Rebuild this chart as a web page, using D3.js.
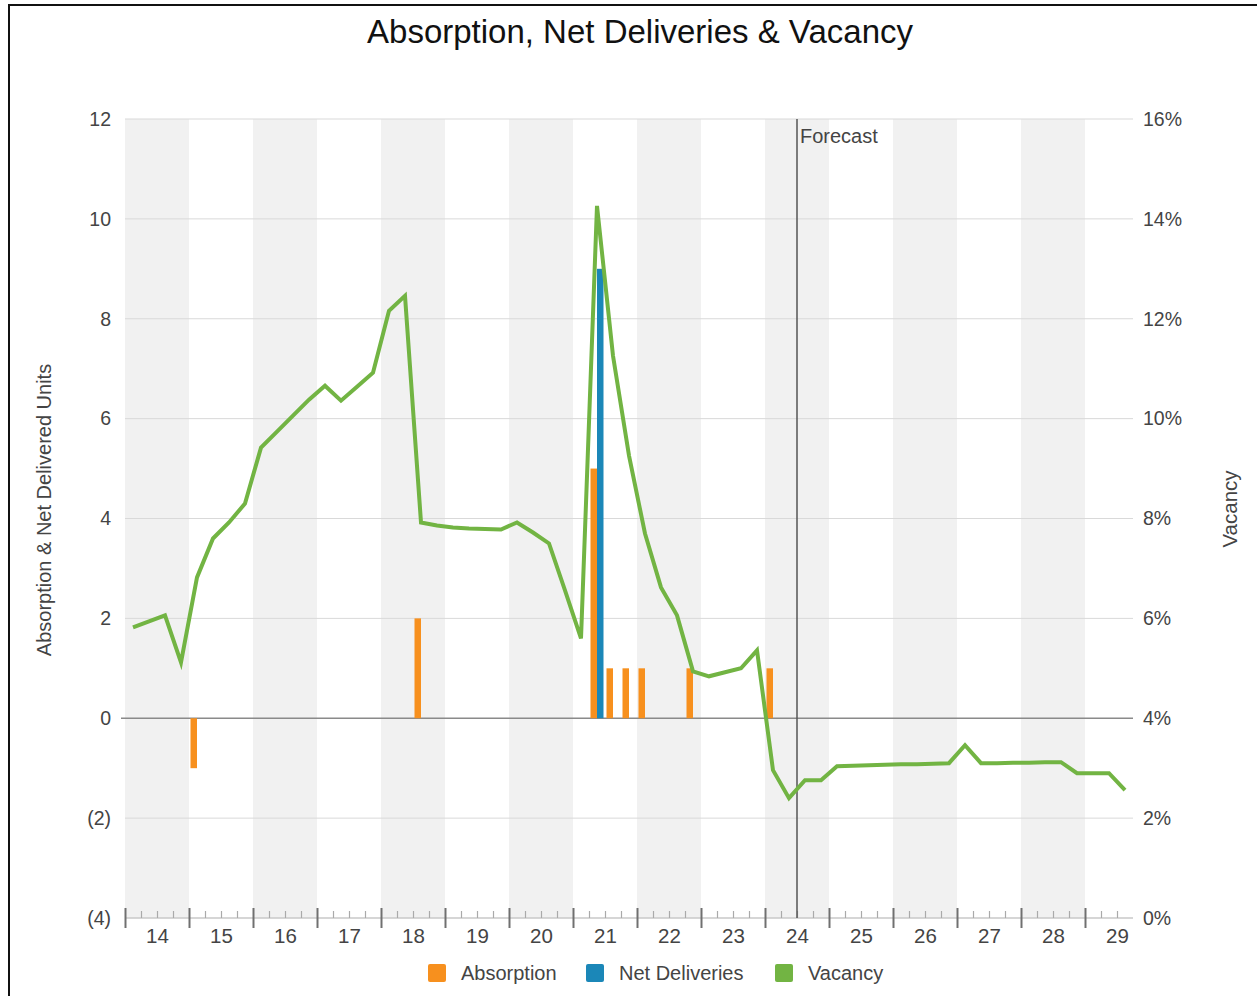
<!DOCTYPE html>
<html>
<head>
<meta charset="utf-8">
<script src="https://cdn.jsdelivr.net/npm/d3@7/dist/d3.min.js"></script>
<style>
  html, body { margin: 0; padding: 0; background: #fff; }
  svg { display: block; font-family: "Liberation Sans", Arial, sans-serif; }
</style>
</head>
<body>
<svg id="chart" width="1257" height="996"></svg>
<script>
// Years shown on the time axis (quarterly data, 2014 Q1 – 2029 Q3)
const years = [2014, 2015, 2016, 2017, 2018, 2019, 2020, 2021, 2022, 2023, 2024, 2025, 2026, 2027, 2028, 2029];
const yearLabels = ["14", "15", "16", "17", "18", "19", "20", "21", "22", "23", "24", "25", "26", "27", "28", "29"];

// Quarterly absorption (units), starting 2014 Q1
const absorption = [
  0, 0, 0, 0, -1, 0, 0, 0,
  0, 0, 0, 0, 0, 0, 0, 0,
  0, 0, 2, 0, 0, 0, 0, 0,
  0, 0, 0, 0, 0, 5, 1, 1,
  1, 0, 0, 1, 0, 0, 0, 0,
  1, 0, 0, 0, 0, 0, 0, 0,
  0, 0, 0, 0, 0, 0, 0, 0,
  0, 0, 0, 0, 0, 0, 0
];

// Quarterly net deliveries (units), starting 2014 Q1
const netDeliveries = [
  0, 0, 0, 0, 0, 0, 0, 0,
  0, 0, 0, 0, 0, 0, 0, 0,
  0, 0, 0, 0, 0, 0, 0, 0,
  0, 0, 0, 0, 0, 9, 0, 0,
  0, 0, 0, 0, 0, 0, 0, 0,
  0, 0, 0, 0, 0, 0, 0, 0,
  0, 0, 0, 0, 0, 0, 0, 0,
  0, 0, 0, 0, 0, 0, 0
];

// Quarterly vacancy rate (%), starting 2014 Q1
const vacancy = [
  5.82, 5.94, 6.06, 5.12, 6.82, 7.60, 7.92, 8.30,
  9.42, 9.74, 10.06, 10.38, 10.66, 10.36, 10.64, 10.92,
  12.16, 12.46, 7.92, 7.86, 7.82, 7.80, 7.79, 7.78,
  7.92, 7.72, 7.50, 6.56, 5.60, 14.26, 11.26, 9.26,
  7.70, 6.62, 6.06, 4.94, 4.84, 4.92, 5.00, 5.36,
  2.96, 2.40, 2.76, 2.76, 3.04, 3.05, 3.06, 3.07,
  3.08, 3.08, 3.09, 3.10, 3.46, 3.10, 3.10, 3.11,
  3.11, 3.12, 3.12, 2.90, 2.90, 2.90, 2.56
];

const leftTicks = [-4, -2, 0, 2, 4, 6, 8, 10, 12];
const rightTicks = [0, 2, 4, 6, 8, 10, 12, 14, 16];
const forecastStart = 2024.5;

const colors = { absorption: "#f7901e", deliveries: "#1b87b8", vacancy: "#72b443" };
const FONT = "Liberation Sans, Arial, sans-serif";

const svg = d3.select("#chart");
const plot = { left: 125, right: 1133, top: 119, bottom: 918 };

const x = d3.scaleLinear().domain([2014, 2029.75]).range([plot.left, plot.right]);
const yL = d3.scaleLinear().domain([-4, 12]).range([plot.bottom, plot.top]);
const yR = d3.scaleLinear().domain([0, 16]).range([plot.bottom, plot.top]);

// quarter i (0 = 2014 Q1) -> time value at the middle of that quarter
const qMid = i => 2014 + (i + 0.5) / 4;

// outer frame
svg.append("rect")
  .attr("x", 9).attr("y", 5).attr("width", 1260).attr("height", 1000)
  .attr("fill", "none").attr("stroke", "#111").attr("stroke-width", 2);

// title
svg.append("text")
  .attr("x", 640).attr("y", 43)
  .attr("text-anchor", "middle")
  .attr("font-size", 33).attr("fill", "#111")
  .text("Absorption, Net Deliveries & Vacancy");

// alternating year bands
svg.append("g").selectAll("rect")
  .data(years.filter((y, i) => i % 2 === 0))
  .join("rect")
  .attr("x", d => x(d)).attr("y", plot.top)
  .attr("width", d => x(d + 1) - x(d)).attr("height", plot.bottom - plot.top)
  .attr("fill", "#f1f1f1");

// horizontal gridlines
svg.append("g").selectAll("line")
  .data(leftTicks.filter(d => d !== -4 && d !== 0))
  .join("line")
  .attr("x1", plot.left).attr("x2", plot.right)
  .attr("y1", d => yL(d)).attr("y2", d => yL(d))
  .attr("stroke", "#d9d9d9").attr("stroke-width", 1);

// zero line
svg.append("line")
  .attr("x1", plot.left - 4).attr("x2", plot.right)
  .attr("y1", yL(0)).attr("y2", yL(0))
  .attr("stroke", "#8a8a8a").attr("stroke-width", 1.5);

// left axis labels
const leftAxis = d3.axisLeft(yL).tickValues(leftTicks).tickSize(0).tickPadding(14)
  .tickFormat(d => d < 0 ? `(${-d})` : `${d}`);
const gL = svg.append("g").attr("transform", `translate(${plot.left},0)`).call(leftAxis);
gL.select(".domain").remove();
gL.selectAll("text").attr("font-size", 19.5).attr("fill", "#444").attr("font-family", FONT);

// right axis labels
const rightAxis = d3.axisRight(yR).tickValues(rightTicks).tickSize(0).tickPadding(10)
  .tickFormat(d => `${d}%`);
const gR = svg.append("g").attr("transform", `translate(${plot.right},0)`).call(rightAxis);
gR.select(".domain").remove();
gR.selectAll("text").attr("font-size", 19.5).attr("fill", "#444").attr("font-family", FONT);

// axis titles
svg.append("text")
  .attr("transform", `translate(51,510) rotate(-90)`)
  .attr("text-anchor", "middle").attr("font-size", 20).attr("fill", "#444")
  .text("Absorption & Net Delivered Units");
svg.append("text")
  .attr("transform", `translate(1237,509) rotate(-90)`)
  .attr("text-anchor", "middle").attr("font-size", 20.5).attr("fill", "#444")
  .text("Vacancy");

// bars: absorption on the left of each quarter, net deliveries on the right
const barW = 6.5;
svg.append("g").selectAll("rect")
  .data(absorption.map((v, i) => ({ v, i })).filter(d => d.v !== 0))
  .join("rect")
  .attr("x", d => x(qMid(d.i)) - barW)
  .attr("y", d => yL(Math.max(0, d.v)))
  .attr("width", barW)
  .attr("height", d => Math.abs(yL(d.v) - yL(0)))
  .attr("fill", colors.absorption);
svg.append("g").selectAll("rect")
  .data(netDeliveries.map((v, i) => ({ v, i })).filter(d => d.v !== 0))
  .join("rect")
  .attr("x", d => x(qMid(d.i)))
  .attr("y", d => yL(Math.max(0, d.v)))
  .attr("width", barW)
  .attr("height", d => Math.abs(yL(d.v) - yL(0)))
  .attr("fill", colors.deliveries);

// x axis: baseline, quarter ticks, year ticks, year labels
svg.append("line")
  .attr("x1", plot.left).attr("x2", plot.right)
  .attr("y1", plot.bottom).attr("y2", plot.bottom)
  .attr("stroke", "#c8c8c8").attr("stroke-width", 1.5);

const quarterBounds = d3.range(1, 63).map(i => 2014 + i / 4).filter(t => t % 1 !== 0);
const minorAxis = d3.axisTop(x).tickValues(quarterBounds).tickSize(7).tickFormat("");
const gMinor = svg.append("g").attr("transform", `translate(0,${plot.bottom})`).call(minorAxis);
gMinor.select(".domain").remove();
gMinor.selectAll("line").attr("stroke", "#aaa").attr("stroke-width", 1.2);

const majorAxis = d3.axisBottom(x).tickValues(years).tickSize(10).tickFormat("");
const gMajor = svg.append("g").attr("transform", `translate(0,${plot.bottom})`).call(majorAxis);
gMajor.select(".domain").remove();
gMajor.selectAll("line").attr("y1", -10).attr("stroke", "#707070").attr("stroke-width", 2);

const labelAxis = d3.axisBottom(x).tickValues(years.map(y => y + 0.5)).tickSize(0).tickPadding(10)
  .tickFormat((d, i) => yearLabels[i]);
const gLab = svg.append("g").attr("transform", `translate(0,${plot.bottom})`).call(labelAxis);
gLab.select(".domain").remove();
gLab.selectAll("text").attr("font-size", 20.5).attr("fill", "#444").attr("font-family", FONT);

// forecast marker
svg.append("line")
  .attr("x1", x(forecastStart)).attr("x2", x(forecastStart))
  .attr("y1", plot.top).attr("y2", plot.bottom)
  .attr("stroke", "#555").attr("stroke-width", 1.5);
svg.append("text")
  .attr("x", x(forecastStart) + 3).attr("y", 143)
  .attr("font-size", 20).attr("fill", "#444")
  .text("Forecast");

// vacancy line
const line = d3.line().x((d, i) => x(qMid(i))).y(d => yR(d));
svg.append("path")
  .datum(vacancy)
  .attr("d", line)
  .attr("fill", "none")
  .attr("stroke", colors.vacancy)
  .attr("stroke-width", 4)
  .attr("stroke-linejoin", "miter");

// legend
const legend = [
  { label: "Absorption", color: colors.absorption, x: 428 },
  { label: "Net Deliveries", color: colors.deliveries, x: 586 },
  { label: "Vacancy", color: colors.vacancy, x: 775 }
];
const lg = svg.append("g").selectAll("g").data(legend).join("g")
  .attr("transform", d => `translate(${d.x},964)`);
lg.append("rect").attr("width", 18).attr("height", 18).attr("rx", 2).attr("fill", d => d.color);
lg.append("text").attr("x", 33).attr("y", 16).attr("font-size", 20).attr("fill", "#444")
  .text(d => d.label);
</script>
</body>
</html>
